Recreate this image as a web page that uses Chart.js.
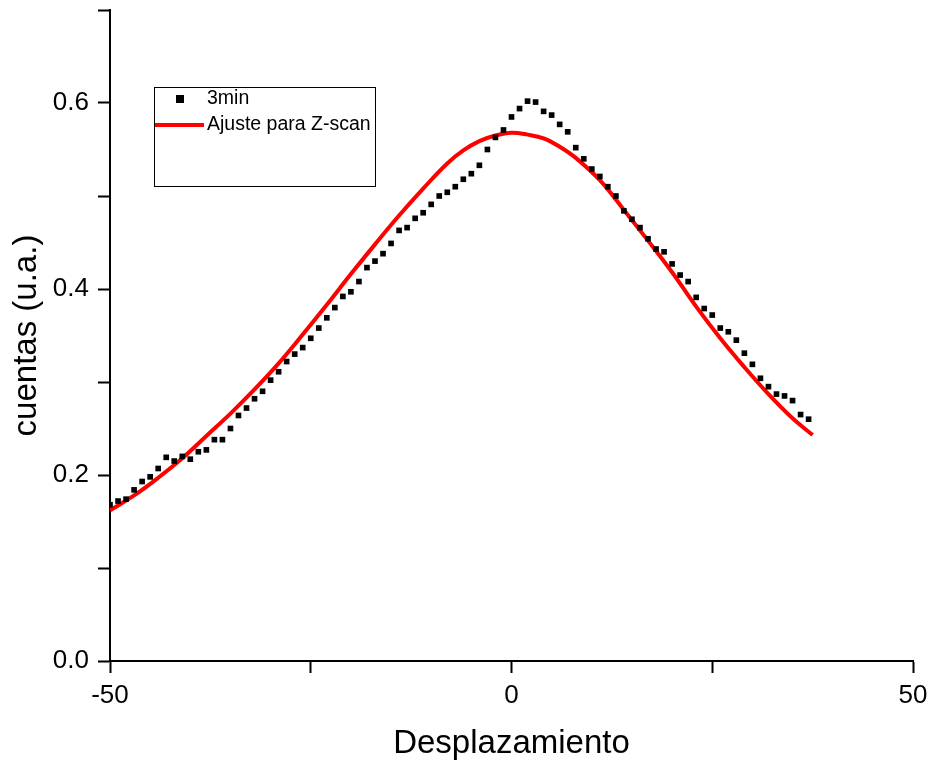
<!DOCTYPE html>
<html><head><meta charset="utf-8">
<script src="https://cdn.jsdelivr.net/npm/chart.js@4.4.0/dist/chart.umd.min.js"></script>
<style>html,body{margin:0;padding:0;background:#fff;overflow:hidden}</style>
</head><body>
<canvas id="c" width="935" height="764"></canvas>
<script>
const seriesLabels = ['3min', 'Ajuste para Z-scan'];
const dataX = [-50,-49,-48,-47,-46,-45,-44,-43,-42,-41,-40,-39,-38,-37,-36,-35,-34,-33,-32,-31,-30,-29,-28,-27,-26,-25,-24,-23,-22,-21,-20,-19,-18,-17,-16,-15,-14,-13,-12,-11,-10,-9,-8,-7,-6,-5,-4,-3,-2,-1,0,1,2,3,4,5,6,7,8,9,10,11,12,13,14,15,16,17,18,19,20,21,22,23,24,25,26,27,28,29,30,31,32,33,34,35,36,37];
const dataY = [0.168,0.172,0.174,0.184,0.193,0.198,0.207,0.219,0.215,0.220,0.217,0.225,0.227,0.238,0.238,0.250,0.264,0.272,0.282,0.290,0.302,0.311,0.322,0.330,0.337,0.347,0.358,0.369,0.380,0.392,0.397,0.408,0.423,0.430,0.438,0.449,0.463,0.466,0.476,0.482,0.491,0.500,0.504,0.510,0.518,0.524,0.533,0.550,0.563,0.571,0.585,0.594,0.602,0.601,0.591,0.587,0.577,0.569,0.552,0.540,0.529,0.521,0.510,0.500,0.484,0.475,0.466,0.454,0.443,0.440,0.427,0.415,0.408,0.391,0.379,0.372,0.358,0.354,0.345,0.331,0.319,0.304,0.295,0.287,0.285,0.280,0.265,0.260];
const fitX = [-50,-47,-44,-41,-38,-35,-32,-29,-26,-23,-20,-17,-14,-11,-8,-6,-4,-2,0,2,4,6,8,11,14,17,20,23,26,29,32,35,37.5];
const fitY = [0.162,0.178,0.197,0.218,0.242,0.266,0.292,0.320,0.351,0.383,0.416,0.448,0.479,0.508,0.535,0.549,0.559,0.565,0.568,0.566,0.562,0.553,0.541,0.517,0.485,0.452,0.418,0.381,0.347,0.316,0.287,0.261,0.243];
const yTickLabels = ['0.0','0.2','0.4','0.6'];
const xTickLabels = ['-50','0','50'];

const FONT = '"Liberation Sans", Arial, sans-serif';

const legendBox = {
  id: 'legendBox',
  afterDraw(chart) {
    const ctx = chart.ctx;
    const ds = chart.data.datasets;
    ctx.save();
    ctx.strokeStyle = '#000';
    ctx.lineWidth = 1;
    ctx.strokeRect(154.5, 87.5, 221, 99);
    ctx.fillStyle = '#000';
    ctx.fillRect(176, 95, 8, 8);
    ctx.strokeStyle = ds[1].borderColor;
    ctx.lineWidth = 4;
    ctx.beginPath(); ctx.moveTo(155, 125); ctx.lineTo(204, 125); ctx.stroke();
    ctx.fillStyle = '#000';
    ctx.font = '19.5px ' + FONT;
    ctx.textBaseline = 'middle';
    ctx.fillText(ds[0].label, 207, 99);
    ctx.fillText(ds[1].label, 207, 125);
    ctx.restore();
  }
};

new Chart(document.getElementById('c'), {
  type: 'scatter',
  data: {
    datasets: [
      {
        label: seriesLabels[0],
        data: dataX.map((x, i) => ({x, y: dataY[i]})),
        showLine: false,
        pointStyle: 'rect',
        pointRadius: 4,
        backgroundColor: '#000',
        borderColor: '#000',
        borderWidth: 0,
        order: 1
      },
      {
        label: seriesLabels[1],
        data: fitX.map((x, i) => ({x, y: fitY[i]})),
        showLine: true,
        borderColor: '#ff0000',
        borderWidth: 4,
        pointRadius: 0,
        tension: 0.4,
        fill: false,
        order: 2
      }
    ]
  },
  options: {
    responsive: false,
    animation: false,
    layout: { padding: { top: 10, right: 22, left: 0, bottom: 0 } },
    plugins: { legend: { display: false }, tooltip: { enabled: false } },
    scales: {
      x: {
        type: 'linear', min: -50, max: 50,
        afterFit(s) { s.height = 103; },
        ticks: {
          stepSize: 25, color: '#000', padding: 7,
          font: { family: FONT, size: 26 },
          maxRotation: 0,
          callback: v => xTickLabels.includes(String(v)) ? String(v) : ''
        },
        grid: { drawOnChartArea: false, drawTicks: true, tickLength: 12, tickColor: '#000', tickWidth: 2 },
        border: { color: '#000', width: 2 },
        title: { display: true, text: 'Desplazamiento', color: '#000', font: { family: FONT, size: 33 }, padding: { top: 0, bottom: 0 } }
      },
      y: {
        type: 'linear', min: 0, max: 0.7,
        afterFit(s) { s.width = 110; s.paddingTop = 0; s.paddingBottom = 0; },
        ticks: {
          stepSize: 0.1, color: '#000', padding: 9,
          font: { family: FONT, size: 26 },
          callback: v => { const t = v.toFixed(1); return yTickLabels.includes(t) ? t : ''; }
        },
        grid: { drawOnChartArea: false, drawTicks: true, tickLength: 12, tickColor: '#000', tickWidth: 2 },
        border: { color: '#000', width: 2 },
        title: { display: true, text: 'cuentas (u.a.)', color: '#000', font: { family: FONT, size: 33 }, padding: { top: 7, bottom: 0 } }
      }
    }
  },
  plugins: [legendBox]
});
</script>
</body></html>
